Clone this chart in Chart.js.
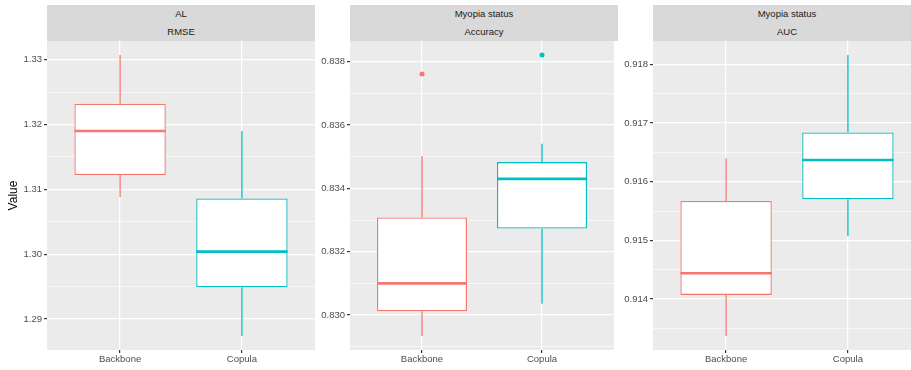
<!DOCTYPE html>
<html>
<head>
<meta charset="utf-8">
<script src="https://cdn.jsdelivr.net/npm/chart.js@4.4.1/dist/chart.umd.min.js"></script>
<style>
  html, body { margin: 0; padding: 0; background: #fff; }
  body { width: 911px; height: 370px; overflow: hidden; position: relative; font-family: "Liberation Sans", Arial, sans-serif; }
  .panel { position: absolute; top: 0; height: 370px; }
  .strip { position: absolute; top: 5px; height: 36px; background: #D9D9D9; color: #1A1A1A;
           font-size: 9.5px; text-align: center; line-height: 18px; }
</style>
</head>
<body>
<script>
// groups on the x axis of every panel
const groups = ['Backbone', 'Copula'];
const groupColors = ['#F8766D', '#00BFC4'];

// strip labels
const stripTop = ['AL', 'Myopia status', 'Myopia status'];
const stripBottom = ['RMSE', 'Accuracy', 'AUC'];

// five number summaries: [lower whisker, Q1, median, Q3, upper whisker]
const rmseBackbone = [1.3088, 1.3122, 1.3190, 1.3232, 1.3307];
const rmseCopula   = [1.2874, 1.2949, 1.3004, 1.3086, 1.3190];
const accBackbone  = [0.82934, 0.83012, 0.83100, 0.83308, 0.83502];
const accCopula    = [0.83036, 0.83273, 0.83430, 0.83483, 0.83541];
const aucBackbone  = [0.91337, 0.91407, 0.91444, 0.91567, 0.91640];
const aucCopula    = [0.91507, 0.91570, 0.91637, 0.91684, 0.91816];

// outliers per group
const rmseOutliers = [[], []];
const accOutliers  = [[0.83761], [0.83821]];
const aucOutliers  = [[], []];

// y tick labels
const rmseTicks = ['1.29', '1.30', '1.31', '1.32', '1.33'];
const accTicks  = ['0.830', '0.832', '0.834', '0.836', '0.838'];
const aucTicks  = ['0.914', '0.915', '0.916', '0.917', '0.918'];

const PANEL_W = 268;
const BOX_W = 0.75;
const panelLefts = [47, 350, 653];
const axisWidths = [47, 45, 45];

const panelBg = {
  id: 'panelBg',
  beforeDraw(chart) {
    const a = chart.chartArea;
    const ctx = chart.ctx;
    ctx.save();
    ctx.fillStyle = '#EBEBEB';
    ctx.fillRect(a.left, a.top, a.right - a.left, a.bottom - a.top);
    ctx.restore();
  }
};

function buildPanel(i, stats, outliers, tickLabels) {
  const axW = axisWidths[i];
  const div = document.createElement('div');
  div.className = 'panel';
  div.style.left = (panelLefts[i] - axW) + 'px';
  div.style.width = (axW + PANEL_W) + 'px';
  const canvas = document.createElement('canvas');
  canvas.width = axW + PANEL_W;
  canvas.height = 370;
  div.appendChild(canvas);
  document.body.appendChild(div);

  const strip = document.createElement('div');
  strip.className = 'strip';
  strip.style.left = panelLefts[i] + 'px';
  strip.style.width = PANEL_W + 'px';
  strip.innerHTML = stripTop[i] + '<br>' + stripBottom[i];
  document.body.appendChild(strip);

  // y limits like ggplot: data range expanded by 5%
  let all = [];
  stats.forEach((s, g) => { all = all.concat(s, outliers[g]); });
  const lo = Math.min(...all), hi = Math.max(...all);
  const pad = (hi - lo) * 0.05;
  const yMin = lo - pad, yMax = hi + pad;

  const majors = tickLabels.map(Number);
  const step = majors[1] - majors[0];
  const yTicks = [];
  for (let k = -1; k < majors.length; k++) {
    if (k >= 0) yTicks.push({ value: majors[k], label: tickLabels[k], minor: false });
    const m = (k >= 0 ? majors[k] : majors[0] - step) + step / 2;
    yTicks.push({ value: m, label: '', minor: true });
  }
  const shownTicks = yTicks.filter(t => t.value >= yMin && t.value <= yMax);

  const datasets = [];
  datasets.push({
    type: 'bar',
    order: 3,
    data: stats.map((s, g) => ({ x: g + 1, y: [s[1], s[3]] })),
    backgroundColor: '#FFFFFF',
    borderColor: groupColors,
    borderWidth: 1.3,
    borderSkipped: false,
    categoryPercentage: 1,
    barPercentage: BOX_W
  });
  stats.forEach((s, g) => {
    const x = g + 1;
    const c = groupColors[g];
    const line = { type: 'line', order: 2, borderColor: c, borderWidth: 1.3, pointRadius: 0, fill: false };
    datasets.push(Object.assign({}, line, { data: [{ x: x, y: s[0] }, { x: x, y: s[1] }] }));
    datasets.push(Object.assign({}, line, { data: [{ x: x, y: s[3] }, { x: x, y: s[4] }] }));
    datasets.push(Object.assign({}, line, { order: 1, borderWidth: 2.6,
      data: [{ x: x - BOX_W / 2, y: s[2] }, { x: x + BOX_W / 2, y: s[2] }] }));
    if (outliers[g].length) {
      datasets.push({
        type: 'scatter', order: 0,
        data: outliers[g].map(v => ({ x: x, y: v })),
        backgroundColor: c, borderWidth: 0, pointRadius: 2.5
      });
    }
  });

  new Chart(canvas, {
    type: 'bar',
    data: { datasets: datasets },
    plugins: [panelBg],
    options: {
      responsive: false,
      animation: false,
      layout: { padding: { top: 41, left: 0, right: 0, bottom: 0 } },
      plugins: { legend: { display: false }, tooltip: { enabled: false } },
      scales: {
        x: {
          type: 'linear',
          offset: false,
          min: 0.4,
          max: 2.6,
          afterBuildTicks: s => { s.ticks = groups.map((_, g) => ({ value: g + 1 })); },
          afterFit: s => { s.height = 20; },
          border: { display: false },
          grid: { offset: false, color: '#FFFFFF', lineWidth: 1.2, tickLength: 3, tickColor: '#333333' },
          ticks: {
            autoSkip: false, maxRotation: 0, padding: 1,
            color: '#4D4D4D', font: { family: 'Liberation Sans', size: 9.5 },
            callback: v => groups[Math.round(v) - 1]
          }
        },
        y: {
          type: 'linear',
          min: yMin,
          max: yMax,
          afterBuildTicks: s => { s.ticks = shownTicks.map(t => ({ value: t.value })); },
          afterFit: s => { s.width = axW; },
          border: { display: false },
          title: {
            display: i === 0, text: 'Value', color: '#000000',
            font: { family: 'Liberation Sans', size: 12 },
            padding: { top: 6, bottom: 0 }
          },
          grid: {
            color: '#FFFFFF',
            lineWidth: ctx => (shownTicks[ctx.index] && shownTicks[ctx.index].minor ? 0.6 : 1.2),
            tickLength: 3,
            tickColor: ctx => (shownTicks[ctx.index] && shownTicks[ctx.index].minor ? 'rgba(0,0,0,0)' : '#333333')
          },
          ticks: {
            autoSkip: false, padding: 2,
            color: '#4D4D4D', font: { family: 'Liberation Sans', size: 9.5 },
            callback: (v, idx) => (shownTicks[idx] ? shownTicks[idx].label : '')
          }
        }
      }
    }
  });
}

buildPanel(0, [rmseBackbone, rmseCopula], rmseOutliers, rmseTicks);
buildPanel(1, [accBackbone, accCopula], accOutliers, accTicks);
buildPanel(2, [aucBackbone, aucCopula], aucOutliers, aucTicks);
</script>
</body>
</html>
